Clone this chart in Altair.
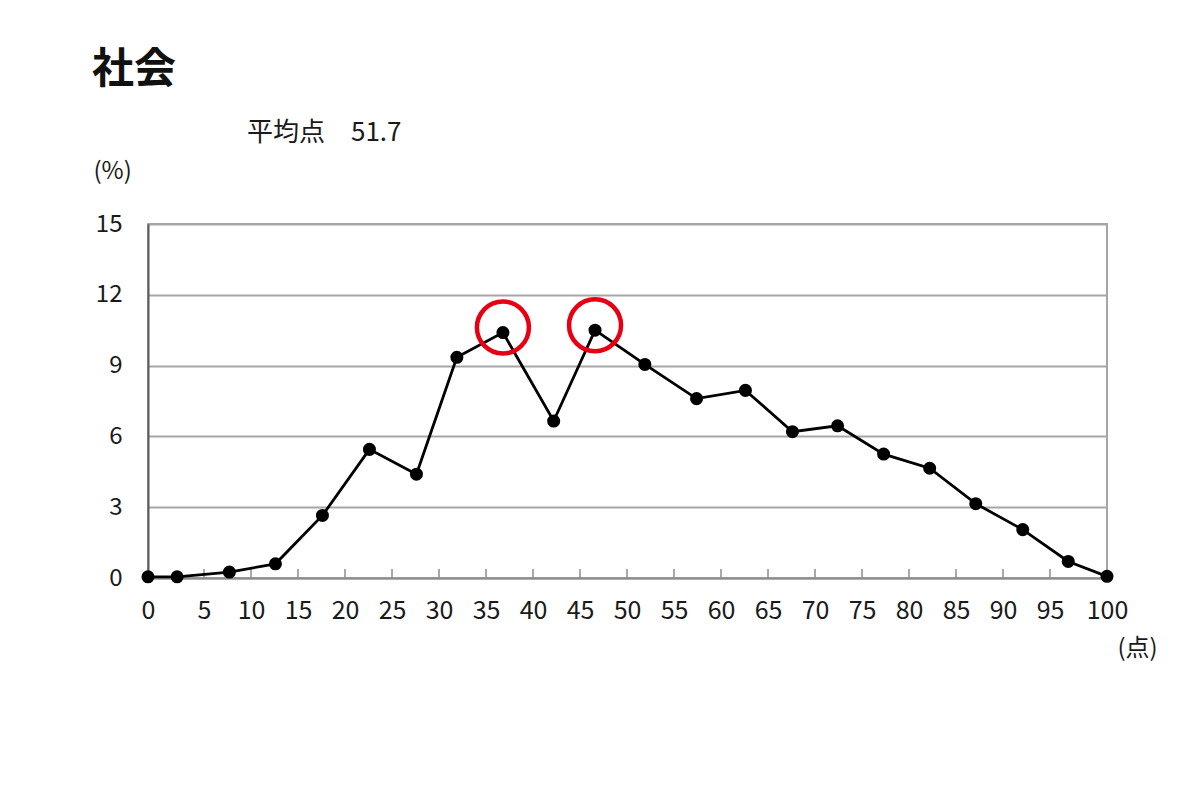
import altair as alt
import pandas as pd

# 得点（横軸の位置）と人数の割合（%）
scores = [0, 2.6, 7.7, 12.6, 17.6, 22.6, 27.6, 31.9, 36.8, 42.2, 46.6,
          51.9, 57.4, 62.6, 67.6, 72.4, 77.3, 82.2, 87.1, 92.1, 96.6, 100]
percents = [0.05, 0.05, 0.25, 0.6, 2.65, 5.45, 4.4, 9.35, 10.4, 6.65, 10.5,
            9.05, 7.6, 7.95, 6.2, 6.45, 5.25, 4.65, 3.15, 2.05, 0.7, 0.07]
highlight = [8, 10]  # 赤丸で囲んだ点

x_ticks = list(range(0, 101, 5))
y_ticks = [0, 3, 6, 9, 12, 15]

titulo = "社会"
media = "平均点\u300051.7"

FONT = "Noto Sans CJK JP"

df = pd.DataFrame({"score": scores, "pct": percents})
df_hl = df.iloc[highlight]

# o eixo original tem o primeiro e o último intervalo mais largos
x_enc = alt.X("score:Q",
              scale=alt.Scale(domain=[0, 5, 95, 100], range=[0, 56, 902, 959],
                              nice=False, zero=False),
              axis=alt.Axis(values=x_ticks, grid=False, ticks=False,
                            labelFlush=False, labelPadding=20, labelFontSize=25,
                            labelColor="#1a1a1a", domainColor="#8c8c8c", domainWidth=2,
                            titleAngle=0, titleX=969, titleY=70,
                            titleAlign="left", titleBaseline="middle",
                            titleFontSize=24, titleFontWeight="normal", titleColor="#1a1a1a"),
              title="(点)")
y_enc = alt.Y("pct:Q",
              scale=alt.Scale(domain=[0, 15], nice=False),
              axis=alt.Axis(values=y_ticks, grid=True, gridColor="#a6a6a6", gridWidth=2,
                            ticks=False, labelPadding=26, labelFontSize=24,
                            labelColor="#1a1a1a", domainColor="#595959", domainWidth=2,
                            titleAngle=0, titleX=-55, titleY=-53,
                            titleAlign="left", titleBaseline="middle",
                            titleFontSize=24, titleFontWeight="normal", titleColor="#1a1a1a"),
              title="(%)")

base = alt.Chart(df).encode(x=x_enc, y=y_enc)

linha = base.mark_line(color="black", strokeWidth=2.8)
pontos = base.mark_circle(size=170, color="black", opacity=1)

# marcas de escala viradas para dentro
marcas = alt.Chart(pd.DataFrame({"score": x_ticks[1:-1]})).mark_rule(
    color="#8c8c8c", strokeWidth=1.5
).encode(
    x=x_enc,
    y=alt.value(354),
    y2=alt.value(345),
)

circulos = alt.Chart(df_hl).mark_point(
    shape="circle", size=2704, filled=False, color="#e60012",
    strokeWidth=4.5, opacity=1, yOffset=-5
).encode(x=x_enc, y=y_enc)

txt_titulo = alt.Chart(pd.DataFrame({"t": [titulo]})).mark_text(
    align="left", baseline="middle", fontSize=42, fontWeight="bold", color="#111"
).encode(text="t:N", x=alt.value(-56), y=alt.value(-154))

txt_media = alt.Chart(pd.DataFrame({"t": [media]})).mark_text(
    align="left", baseline="middle", fontSize=26, color="#1a1a1a"
).encode(text="t:N", x=alt.value(99), y=alt.value(-91))

chart = alt.layer(marcas, linha, pontos, circulos, txt_titulo, txt_media).properties(
    width=959,
    height=354,
    autosize=alt.AutoSizeParams(type="none"),
    padding={"left": 140, "top": 216, "right": 60, "bottom": 150},
).configure(
    background="white", font=FONT
).configure_view(
    stroke="#a6a6a6", strokeWidth=2
)

chart.save("out.html", embed_options={"renderer": "svg", "actions": False})
